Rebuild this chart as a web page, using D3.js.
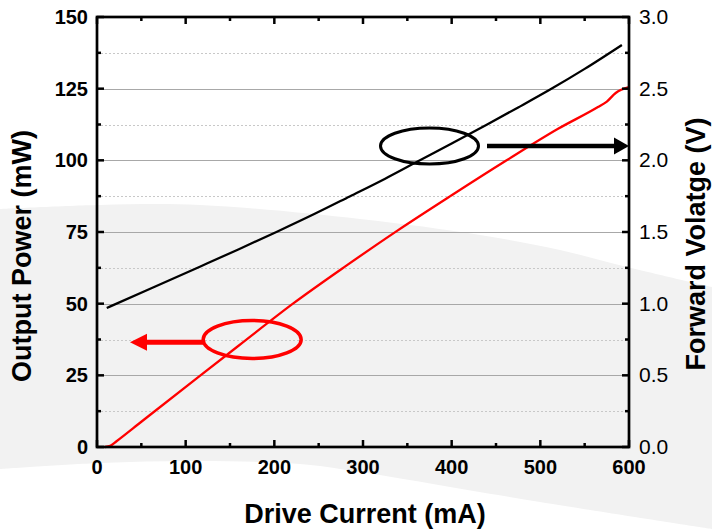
<!DOCTYPE html>
<html>
<head>
<meta charset="utf-8">
<script src="https://cdn.jsdelivr.net/npm/d3@7"></script>
<style>
  body { margin: 0; background: #fff; }
  svg { display: block; font-family: Arial, "Liberation Sans", sans-serif; }
</style>
</head>
<body>
<div id="chart"></div>
<script>
// drive current (mA) vs output power (mW), left axis
let powerCurrent = [9, 15, 22, 50, 116, 160, 221, 280, 338, 400, 462, 520, 565, 575, 585, 600]
let powerValues = [0, 0.4, 2, 8.8, 24.8, 35.4, 50, 63, 75.3, 87.8, 100, 111, 118.6, 120.5, 123.5, 125.5]

// drive current (mA) vs forward voltage (V), right axis
let voltCurrent = [11, 60, 116, 160, 203, 245, 285, 325, 361, 400, 440, 475, 511, 550, 592]
let voltValues = [0.97, 1.104, 1.258, 1.38, 1.502, 1.625, 1.748, 1.872, 1.99, 2.117, 2.25, 2.369, 2.494, 2.638, 2.805]

let xTicks = [0, 100, 200, 300, 400, 500, 600]
let powerTicks = [0, 25, 50, 75, 100, 125, 150]
let voltTicks = [0, 0.5, 1.0, 1.5, 2.0, 2.5, 3.0]

// background swoosh of the slide
let swooshTop = [[0, 209], [100, 205], [200, 205], [360, 219], [480, 235], [560, 250], [627, 267], [712, 287]]
let swooshBottom = [[712, 529], [540, 502], [360, 472], [300, 464], [200, 461], [100, 463], [0, 469]]

let width = 712, height = 529
let pLeft = 97, pRight = 629, pTop = 17, pBottom = 447

let svg = d3.select('#chart')
  .append('svg')
  .attr('width', width)
  .attr('height', height)

let x = d3.scaleLinear().domain([0, 600]).range([pLeft, pRight])
let yP = d3.scaleLinear().domain([0, 150]).range([pBottom, pTop])
let yV = d3.scaleLinear().domain([0, 3]).range([pBottom, pTop])

// swoosh
let edge = d3.line().curve(d3.curveCatmullRom)
svg.append('path')
  .attr('d', edge(swooshTop) + 'L' + edge(swooshBottom).slice(1) + 'Z')
  .attr('fill', '#f2f2f2')

// grid
let minor = d3.range(12.5, 150, 25)
svg.append('g').selectAll('line')
  .data(minor)
  .enter()
  .append('line')
  .attr('x1', pLeft).attr('x2', pRight)
  .attr('y1', d => Math.round(yP(d)) + 0.5).attr('y2', d => Math.round(yP(d)) + 0.5)
  .attr('stroke', '#c8c8c8')
  .attr('stroke-dasharray', '2 2')
svg.append('g').selectAll('line')
  .data(powerTicks.slice(1, -1))
  .enter()
  .append('line')
  .attr('x1', pLeft).attr('x2', pRight)
  .attr('y1', d => Math.round(yP(d)) + 0.5).attr('y2', d => Math.round(yP(d)) + 0.5)
  .attr('stroke', '#a8a8a8')

// data lines
let voltLine = d3.line()
  .x((d, i) => x(voltCurrent[i]))
  .y(d => yV(d))
  .curve(d3.curveMonotoneX)
svg.append('path')
  .attr('d', voltLine(voltValues))
  .attr('fill', 'none')
  .attr('stroke', '#000')
  .attr('stroke-width', 2.3)

let powerLine = d3.line()
  .x((d, i) => x(powerCurrent[i]))
  .y(d => yP(d))
  .curve(d3.curveMonotoneX)
svg.append('path')
  .attr('d', powerLine(powerValues))
  .attr('fill', 'none')
  .attr('stroke', '#ff0000')
  .attr('stroke-width', 2.3)

// axes, ticks inward
let xMinor = d3.range(50, 600, 100)
let axisG = svg.append('g').attr('stroke', '#000')

let tick = (x1, y1, x2, y2) => {
  axisG.append('line')
    .attr('x1', x1).attr('y1', y1).attr('x2', x2).attr('y2', y2)
    .attr('stroke-width', 2.5)
}
xTicks.forEach(d => {
  tick(x(d), pBottom, x(d), pBottom - 7)
  tick(x(d), pTop, x(d), pTop + 7)
})
xMinor.forEach(d => {
  tick(x(d), pBottom, x(d), pBottom - 4)
  tick(x(d), pTop, x(d), pTop + 4)
})
powerTicks.forEach(d => {
  tick(pLeft, yP(d), pLeft + 7, yP(d))
})
minor.forEach(d => {
  tick(pLeft, yP(d), pLeft + 4, yP(d))
  tick(pRight, yP(d), pRight - 4, yP(d))
})
voltTicks.forEach(d => {
  tick(pRight, yV(d), pRight - 7, yV(d))
})

axisG.append('rect')
  .attr('x', pLeft).attr('y', pTop)
  .attr('width', pRight - pLeft).attr('height', pBottom - pTop)
  .attr('fill', 'none')
  .attr('stroke-width', 2.7)

// tick labels
svg.append('g').selectAll('text')
  .data(xTicks)
  .enter()
  .append('text')
  .attr('x', d => x(d))
  .attr('y', 474)
  .attr('text-anchor', 'middle')
  .attr('font-size', 20)
  .attr('font-weight', 'bold')
  .text(d => d)

svg.append('g').selectAll('text')
  .data(powerTicks)
  .enter()
  .append('text')
  .attr('x', 88)
  .attr('y', d => yP(d) + 7)
  .attr('text-anchor', 'end')
  .attr('font-size', 20)
  .attr('font-weight', 'bold')
  .text(d => d)

svg.append('g').selectAll('text')
  .data(voltTicks)
  .enter()
  .append('text')
  .attr('x', 639)
  .attr('y', d => yV(d) + 7)
  .attr('font-size', 21)
  .text(d => d.toFixed(1))

// titles
svg.append('text')
  .attr('x', (pLeft + pRight) / 2 + 2)
  .attr('y', 523)
  .attr('text-anchor', 'middle')
  .attr('font-size', 27)
  .attr('font-weight', 'bold')
  .text('Drive Current (mA)')

svg.append('text')
  .attr('transform', 'translate(31, 256) rotate(-90)')
  .attr('text-anchor', 'middle')
  .attr('font-size', 27)
  .attr('font-weight', 'bold')
  .text('Output Power (mW)')

svg.append('text')
  .attr('transform', 'translate(705, 244) rotate(-90)')
  .attr('text-anchor', 'middle')
  .attr('font-size', 27)
  .attr('font-weight', 'bold')
  .text('Forward Volatge (V)')

// annotations: ellipses and arrows
svg.append('ellipse')
  .attr('cx', x(375)).attr('cy', yV(2.1))
  .attr('rx', 49).attr('ry', 18)
  .attr('fill', 'none').attr('stroke', '#000').attr('stroke-width', 3)
svg.append('line')
  .attr('x1', 487).attr('x2', pRight - 14)
  .attr('y1', yV(2.1)).attr('y2', yV(2.1))
  .attr('stroke', '#000').attr('stroke-width', 4.5)
svg.append('path')
  .attr('d', `M${pRight},${yV(2.1)} L${pRight - 15},${yV(2.1) - 8.5} L${pRight - 15},${yV(2.1) + 8.5} Z`)
  .attr('fill', '#000')

svg.append('ellipse')
  .attr('cx', x(175)).attr('cy', yP(37.5))
  .attr('rx', 49).attr('ry', 19)
  .attr('fill', 'none').attr('stroke', '#ff0000').attr('stroke-width', 3.5)
svg.append('line')
  .attr('x1', 203).attr('x2', 145)
  .attr('y1', yP(36.5)).attr('y2', yP(36.5))
  .attr('stroke', '#ff0000').attr('stroke-width', 5)
svg.append('path')
  .attr('d', `M130,${yP(36.5)} L147,${yP(36.5) - 8.5} L147,${yP(36.5) + 8.5} Z`)
  .attr('fill', '#ff0000')
</script>
</body>
</html>
